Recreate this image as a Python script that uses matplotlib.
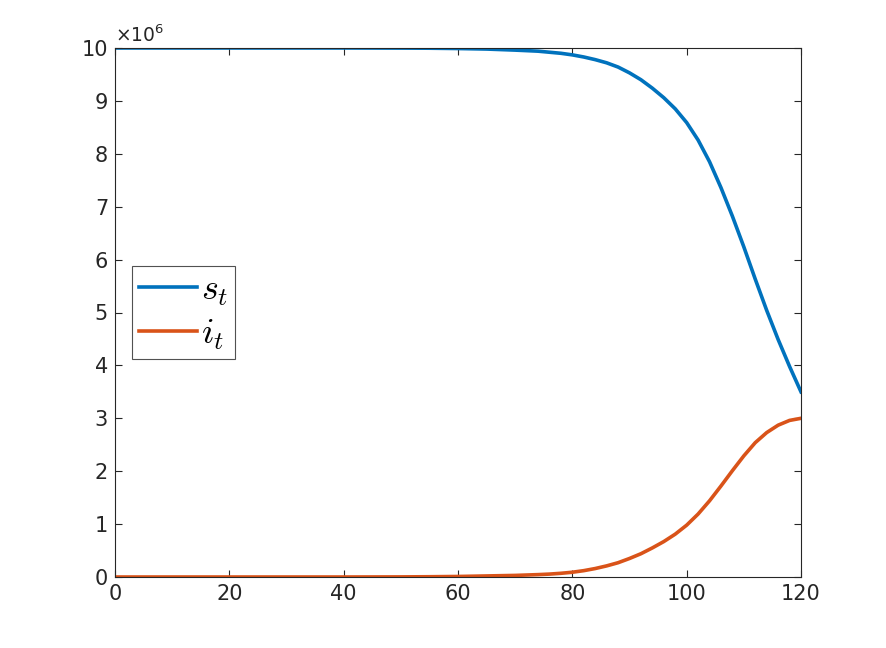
import matplotlib
matplotlib.use("Agg")
import matplotlib.pyplot as plt
import numpy as np

t = [0, 10, 20, 30, 40, 50, 55, 60, 65, 70, 74, 76, 78, 80, 82, 84, 86, 88,
     90, 92, 94, 96, 98, 100, 102, 104, 106, 108, 110, 112, 114, 116, 118,
     120]
s_t = [10.0, 10.0, 10.0, 10.0, 10.0, 9.998, 9.996, 9.99, 9.98, 9.96, 9.94,
       9.92, 9.90, 9.87, 9.83, 9.78, 9.72, 9.64, 9.53, 9.40, 9.24, 9.06,
       8.85, 8.59, 8.26, 7.85, 7.36, 6.82, 6.24, 5.63, 5.04, 4.49, 3.98,
       3.50]
i_t = [0.0, 0.0, 0.0, 0.0, 0.0, 0.002, 0.005, 0.01, 0.02, 0.03, 0.045,
       0.055, 0.07, 0.09, 0.12, 0.16, 0.21, 0.27, 0.35, 0.44, 0.55, 0.67,
       0.81, 0.98, 1.19, 1.44, 1.72, 2.01, 2.29, 2.54, 2.73, 2.87, 2.96,
       3.00]
xticks = [0, 20, 40, 60, 80, 100, 120]
yticks = list(range(0, 11))

plt.rcParams['mathtext.fontset'] = 'cm'
fig = plt.figure(figsize=(8.86, 6.48), dpi=100)
ax = fig.add_axes([115/886, 1-577/648, (801-115)/886, (577-48)/648])

ax.plot(t, np.array(s_t), color='#0072BD', lw=2.6, label=r'$s_t$',
        solid_joinstyle='round')
ax.plot(t, np.array(i_t), color='#D95319', lw=2.6, label=r'$i_t$',
        solid_joinstyle='round')

ax.set_xlim(0, 120)
ax.set_ylim(0, 10)
ax.set_xticks(xticks)
ax.set_yticks(yticks)
dark = '#262626'
ax.tick_params(direction='in', top=True, right=True, length=5, width=0.8,
               colors=dark, labelsize=15, pad=5)
for sp in ax.spines.values():
    sp.set_color(dark)
    sp.set_linewidth(0.8)

ax.text(0.0, 1.003, r'$\times$10$^{6}$', transform=ax.transAxes,
        ha='left', va='bottom', fontsize=13.5, color=dark,
        fontfamily='DejaVu Sans', math_fontfamily='dejavusans')

leg = ax.legend(loc='center left', bbox_to_anchor=(0.025, 0.5), fontsize=26,
                frameon=True, fancybox=False, handlelength=1.6,
                handletextpad=0.1, borderpad=0.2, labelspacing=0.25,
                borderaxespad=0)
leg.get_frame().set_edgecolor(dark)
leg.get_frame().set_linewidth(0.8)

fig.savefig('out.png', dpi=100)
